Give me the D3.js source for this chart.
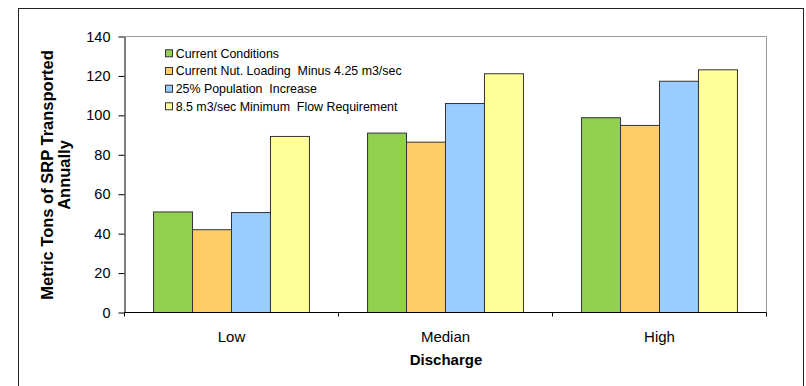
<!DOCTYPE html>
<html>
<head>
<meta charset="utf-8">
<script src="https://cdn.jsdelivr.net/npm/d3@7"></script>
<style>
  html, body { margin: 0; padding: 0; background: #fff; }
  svg { display: block; font-family: Arial, "Liberation Sans", sans-serif; }
  text { white-space: pre; }
</style>
</head>
<body>
<svg id="chart" width="806" height="386"></svg>
<script>
// Discharge scenarios on the x axis
const categories = ["Low", "Median", "High"];

// Scenario series (metric tons of SRP transported annually)
const seriesNames = [
  "Current Conditions",
  "Current Nut. Loading  Minus 4.25 m3/sec",
  "25% Population  Increase",
  "8.5 m3/sec Minimum  Flow Requirement"
];
const currentConditions = [51.0, 91.0, 98.8];
const nutLoadingMinus   = [42.0, 86.4, 94.9];
const populationIncrease = [50.7, 106.0, 117.3];
const minimumFlow       = [89.3, 121.1, 123.1];
const seriesValues = [currentConditions, nutLoadingMinus, populationIncrease, minimumFlow];
const seriesColors = ["#92D050", "#FFCC66", "#99CCFF", "#FFFF99"];

const yTicks = [0, 20, 40, 60, 80, 100, 120, 140];

const svg = d3.select("#chart");

// Plot area
const plot = { left: 124.5, top: 36.5, right: 766.5, bottom: 312.5 };

// Outer chart frame (bottom edge runs below the visible area)
svg.append("rect")
  .attr("x", 18.5).attr("y", 8.5)
  .attr("width", 785).attr("height", 420)
  .attr("fill", "none").attr("stroke", "#222").attr("stroke-width", 1);

const x0 = d3.scaleBand().domain(categories).range([plot.left, plot.right]).padding(0);
const x1 = d3.scaleBand().domain(d3.range(seriesNames.length))
  .range([0, x0.bandwidth()]).paddingInner(0).paddingOuter(0.745);
const y = d3.scaleLinear().domain([0, 140]).range([plot.bottom, plot.top]);

// Grey top/right edges of the plot area
svg.append("path")
  .attr("d", `M${plot.left},${plot.top}H${plot.right}V${plot.bottom}`)
  .attr("fill", "none").attr("stroke", "#999").attr("stroke-width", 1);

// Bars
const groups = svg.append("g").selectAll("g")
  .data(categories)
  .join("g")
  .attr("transform", d => `translate(${x0(d)},0)`);

groups.selectAll("rect")
  .data((c, ci) => seriesValues.map((vals, si) => ({ si, v: vals[ci] })))
  .join("rect")
  .attr("x", d => x1(d.si))
  .attr("width", x1.bandwidth())
  .attr("y", d => y(d.v))
  .attr("height", d => y(0) - y(d.v))
  .attr("fill", d => seriesColors[d.si])
  .attr("stroke", "#333")
  .attr("stroke-width", 1);

// Y axis
const yAxis = svg.append("g")
  .attr("transform", `translate(${plot.left},0)`)
  .call(d3.axisLeft(y).tickValues(yTicks).tickSize(6).tickSizeOuter(0).tickPadding(8));
yAxis.select(".domain").attr("stroke", "#000");
yAxis.selectAll(".tick line").attr("stroke", "#000");
yAxis.selectAll(".tick text")
  .attr("font-size", "14.5px").attr("fill", "#000")
  .attr("font-family", "Arial, 'Liberation Sans', sans-serif");

// X axis: ticks sit on the category boundaries
const xAxis = svg.append("g")
  .attr("transform", `translate(0,${plot.bottom})`);
xAxis.append("line")
  .attr("x1", plot.left).attr("x2", plot.right)
  .attr("stroke", "#000");
const boundaries = categories.map(c => x0(c)).concat([plot.right]);
xAxis.selectAll("line.tk")
  .data(boundaries)
  .join("line").attr("class", "tk")
  .attr("x1", d => d).attr("x2", d => d)
  .attr("y1", 0).attr("y2", 4)
  .attr("stroke", "#000");
xAxis.selectAll("text")
  .data(categories)
  .join("text")
  .attr("x", d => x0(d) + x0.bandwidth() / 2)
  .attr("y", 29)
  .attr("text-anchor", "middle")
  .attr("font-size", "15px")
  .attr("fill", "#000")
  .text(d => d);

// Axis titles
svg.append("text")
  .attr("x", 446).attr("y", 365)
  .attr("text-anchor", "middle")
  .attr("font-size", "15px").attr("font-weight", "bold")
  .text("Discharge");

const yTitle = svg.append("text")
  .attr("transform", "translate(53,175) rotate(-90)")
  .attr("text-anchor", "middle")
  .attr("font-size", "16.5px").attr("font-weight", "bold");
yTitle.append("tspan").attr("x", 0).attr("dy", 0).text("Metric Tons of SRP Transported");
yTitle.append("tspan").attr("x", 0).attr("dy", 17).text("Annually");

// Legend
const legend = svg.append("g").attr("transform", "translate(165,0)");
const rowY = [53.3, 71, 88.7, 106.3];
const items = legend.selectAll("g")
  .data(seriesNames)
  .join("g")
  .attr("transform", (d, i) => `translate(0,${rowY[i]})`);
items.append("rect")
  .attr("x", 0.5).attr("y", -3.5)
  .attr("width", 7).attr("height", 7)
  .attr("fill", (d, i) => seriesColors[i])
  .attr("stroke", "#333").attr("stroke-width", 1);
items.append("text")
  .attr("x", 10.7).attr("y", 4.3)
  .attr("font-size", "12.4px")
  .attr("fill", "#000")
  .text(d => d);
</script>
</body>
</html>
